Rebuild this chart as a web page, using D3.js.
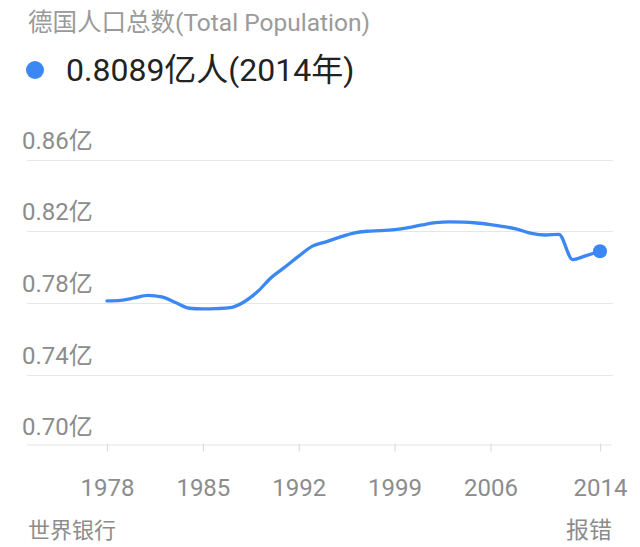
<!DOCTYPE html>
<html>
<head>
<meta charset="utf-8">
<script src="https://cdn.jsdelivr.net/npm/d3@7/dist/d3.min.js"></script>
<style>
  html, body { margin: 0; padding: 0; background: #fff; }
  svg { display: block; }
  text { font-family: Roboto, "Noto Sans CJK SC", sans-serif; }
</style>
</head>
<body>
<svg id="chart" width="640" height="547"></svg>
<script>
// Data (population in 亿)
const years = [1978,1979,1980,1981,1982,1983,1984,1985,1986,1987,1988,1989,1990,1991,1992,1993,1994,1995,1996,1997,1998,1999,2000,2001,2002,2003,2004,2005,2006,2007,2008,2009,2010,2011,2012,2013,2014];
const population = [0.7812,0.7815,0.7829,0.7843,0.7834,0.7803,0.7771,0.7767,0.7769,0.7774,0.7806,0.7864,0.7943,0.8001,0.8062,0.8118,0.8142,0.8168,0.8191,0.8201,0.8204,0.8210,0.8221,0.8236,0.8249,0.8253,0.8252,0.8247,0.8238,0.8227,0.8211,0.8189,0.8180,0.8184,0.8043,0.8065,0.8089];
const yTicks = [0.70,0.74,0.78,0.82,0.86];
const xTicks = [1978,1985,1992,1999,2006,2014];
const titleText = "德国人口总数(Total Population)";
const latestText = "0.8089亿人(2014年)";
const sourceText = "世界银行";
const reportText = "报错";

const svg = d3.select("#chart");

const x = d3.scaleLinear().domain([1978, 2014]).range([107, 600]);
const y = d3.scaleLinear().domain([0.70, 0.86]).range([446.3, 159.8]);

// Title
svg.append("text").attr("x", 28).attr("y", 31)
  .attr("font-size", 24.5).attr("fill", "#9a9a9a").text(titleText);

// Legend dot + latest value
svg.append("circle").attr("cx", 35).attr("cy", 70).attr("r", 9).attr("fill", "#3b88f5");
svg.append("text").attr("x", 66).attr("y", 81)
  .attr("font-size", 32).attr("fill", "#222").text(latestText);

// Gridlines (excluding baseline)
svg.append("g").selectAll("line").data(yTicks.filter(d => d > 0.70)).join("line")
  .attr("x1", 27).attr("x2", 613)
  .attr("y1", d => Math.round(y(d)) + 0.5).attr("y2", d => Math.round(y(d)) + 0.5)
  .attr("stroke", "#e6e6e6").attr("stroke-width", 1.2);

// Y labels
svg.append("g").selectAll("text").data(yTicks).join("text")
  .attr("x", 22).attr("y", d => y(d) - 11)
  .attr("font-size", 24).attr("fill", "#8c8c8c")
  .text(d => d3.format(".2f")(d) + "亿");

// X axis
const xAxis = d3.axisBottom(x).tickValues(xTicks).tickSize(7).tickFormat(d => d);
const gx = svg.append("g").attr("transform", `translate(0,${Math.round(y(0.70)) - 1.5})`).call(xAxis);
gx.select(".domain").remove();
gx.insert("line", ":first-child").attr("x1", 27).attr("x2", 612).attr("y1", 0.5).attr("y2", 0.5)
  .attr("stroke", "#e6e6e6").attr("stroke-width", 1.2);
gx.selectAll(".tick line").attr("stroke", "#dcdcdc").attr("y1", -1).attr("stroke-width", 1.2);
gx.selectAll(".tick text").attr("y", 0).attr("dy", null)
  .attr("transform", "translate(0,51)")
  .attr("font-size", 24).attr("fill", "#8c8c8c")
  .attr("font-family", "Roboto, 'Noto Sans CJK SC', sans-serif");

// Line
const pts = years.map((yr, i) => [yr, population[i]]);
const line = d3.line().x(d => x(d[0])).y(d => y(d[1])).curve(d3.curveMonotoneX);
svg.append("path").datum(pts).attr("d", line)
  .attr("fill", "none").attr("stroke", "#3b88f5").attr("stroke-width", 3.3)
  .attr("stroke-linejoin", "round").attr("stroke-linecap", "round");

// End point
const last = pts[pts.length - 1];
svg.append("circle").attr("cx", x(last[0])).attr("cy", y(last[1])).attr("r", 7).attr("fill", "#3b88f5");

// Footer
svg.append("text").attr("x", 28).attr("y", 538)
  .attr("font-size", 22).attr("fill", "#8c8c8c").text(sourceText);
svg.append("text").attr("x", 612).attr("y", 538).attr("text-anchor", "end")
  .attr("font-size", 23).attr("fill", "#8c8c8c").text(reportText);
</script>
</body>
</html>
